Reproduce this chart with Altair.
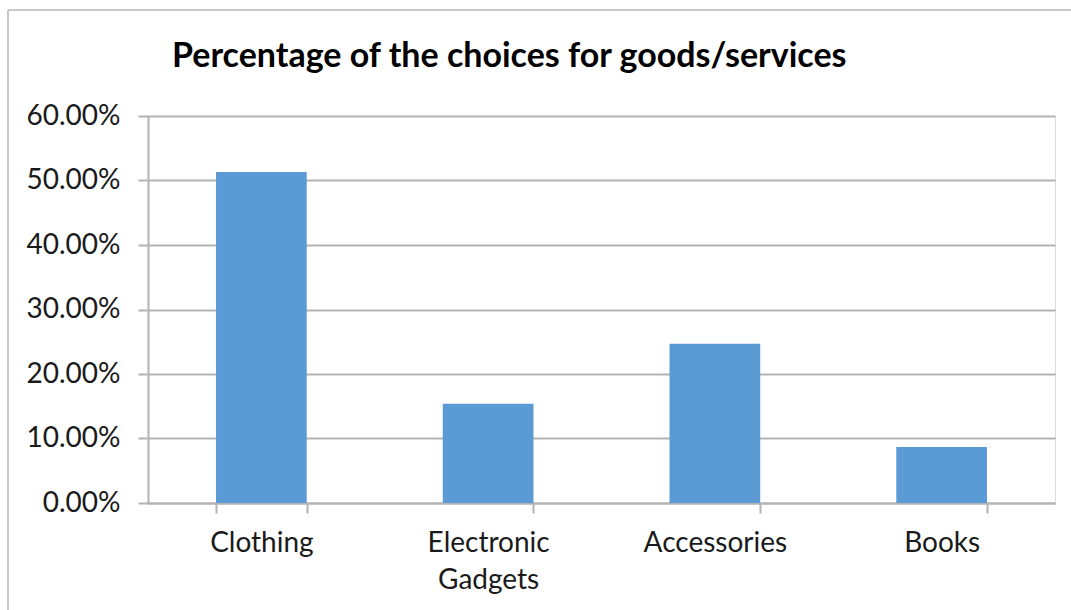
import altair as alt
import pandas as pd

categories = ["Clothing", "Electronic Gadgets", "Accessories", "Books"]
values = [0.513, 0.154, 0.247, 0.087]
y_ticks = [0.0, 0.1, 0.2, 0.3, 0.4, 0.5, 0.6]
title_text = ["Percentage of the choices for goods/services"]

df = pd.DataFrame({"category": categories, "value": values})
tdf = pd.DataFrame({"t": title_text})

FONT = "Lato"
GRID = "#b3b3b3"

bars = alt.Chart(df).mark_bar(color="#5b9bd5").encode(
    x=alt.X(
        "category:N",
        sort=categories,
        scale=alt.Scale(paddingInner=0.6, paddingOuter=0.3),
        axis=alt.Axis(
            title=None,
            labelAngle=0,
            labelExpr="split(datum.label, ' ')",
            labelFont=FONT,
            labelFontSize=28,
            labelColor="#1a1a1a",
            labelPadding=16,
            labelLineHeight=37,
            tickBand="extent",
            tickSize=10,
            tickColor=GRID,
            tickWidth=2,
            domainColor=GRID,
            domainWidth=2,
            grid=False,
        ),
    ),
    y=alt.Y(
        "value:Q",
        scale=alt.Scale(domain=[0, 0.6], nice=False),
        axis=alt.Axis(
            title=None,
            values=y_ticks,
            format=".2%",
            labelFont=FONT,
            labelFontSize=28,
            labelColor="#1a1a1a",
            labelPadding=18,
            tickSize=10,
            tickColor=GRID,
            tickWidth=2,
            domainColor=GRID,
            domainWidth=2,
            grid=True,
            gridColor=GRID,
            gridWidth=2,
        ),
    ),
)

title = alt.Chart(tdf).mark_text(
    font=FONT, fontSize=34, fontWeight="bold", color="#000000",
    align="left", baseline="alphabetic", clip=False,
).encode(text="t:N", x=alt.value(24), y=alt.value(-49))

border = alt.Chart(tdf).mark_rule(color="#c8c8c8", strokeWidth=2, clip=False).encode(
    x=alt.value(-140), y=alt.value(-106), y2=alt.value(500)
)
border_top = alt.Chart(tdf).mark_rule(color="#c8c8c8", strokeWidth=2, clip=False).encode(
    x=alt.value(-140), x2=alt.value(940), y=alt.value(-106)
)

chart = (
    alt.layer(border, border_top, bars, title)
    .properties(
        width=907,
        height=387,
        autosize=alt.AutoSizeParams(type="none"),
        padding={"left": 148, "top": 116, "right": 16, "bottom": 107},
    )
    .configure_view(stroke=None)
    .configure(background="white")
)

chart.save("out.html", embed_options={"renderer": "svg", "actions": False})
